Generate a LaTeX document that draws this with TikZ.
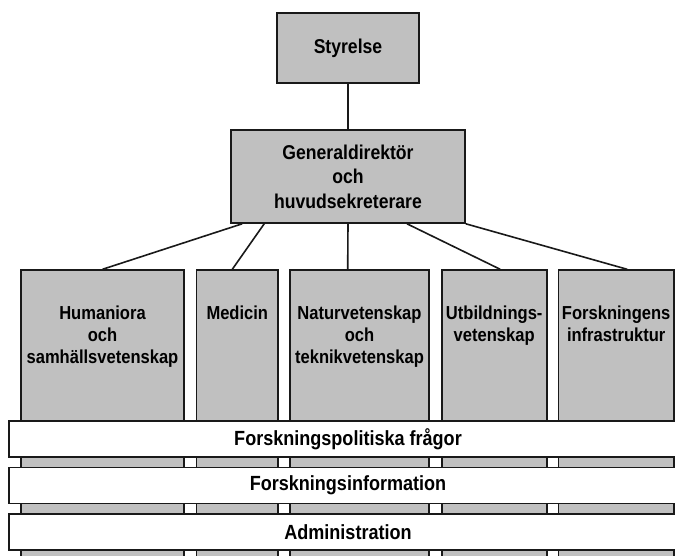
\documentclass[tikz,border=0pt]{standalone}
\usepackage{fontspec}
\setmainfont{Liberation Sans}[FakeStretch=0.88]
\usepackage{tikz}
\definecolor{boxgray}{RGB}{192,192,192}
\definecolor{edge}{RGB}{25,25,25}

\begin{document}
\begin{tikzpicture}[x=1pt,y=-1pt,
  unit/.style={draw=edge,fill=boxgray,line width=1.6pt,inner sep=0pt,align=center,
    font=\fontsize{20}{24.5}\selectfont\bfseries},
  dept/.style={draw=edge,fill=boxgray,line width=1.6pt,anchor=north,inner sep=0pt,
    minimum height=320pt},
  depttext/.style={anchor=north,inner sep=0pt,align=center,
    font=\fontsize{18.8}{22}\selectfont\bfseries},
  band/.style={draw=edge,fill=white,line width=1.6pt,inner sep=0pt,
    minimum width=678pt,minimum height=36pt,font=\fontsize{20.5}{22}\selectfont\bfseries},
  link/.style={draw=edge,line width=1.6pt}]
  \useasboundingbox (0,0) rectangle (675,556);
  \clip (0,0) rectangle (675,556);
  \node[unit,minimum width=142pt,minimum height=70pt] (sty) at (348,48) {Styrelse};
  \node[unit,minimum width=234pt,minimum height=93pt] (gd) at (348,176.5)
    {Generaldirektör\\och\\huvudsekreterare};
  \draw[link] (sty.south) -- (gd.north);

  \node[dept,minimum width=163pt]   (hum) at (102.5,269.3) {};
  \node[dept,minimum width=81.3pt]  (med) at (237.3,269.3) {};
  \node[dept,minimum width=139pt]   (nat) at (359.5,269.3) {};
  \node[dept,minimum width=105pt]   (utb) at (494.2,269.3) {};
  \node[dept,minimum width=115.7pt] (inf) at (616.2,269.3) {};
  \node[depttext] (humtxt) at ([yshift=-36.4pt]hum.north) {Humaniora\\och\\samhällsvetenskap};
  \node[depttext] (medtxt) at ([yshift=-36.4pt]med.north) {Medicin};
  \node[depttext] (nattxt) at ([yshift=-36.4pt]nat.north) {Naturvetenskap\\och\\teknikvetenskap};
  \node[depttext] (utbtxt) at ([yshift=-36.4pt]utb.north) {Utbildnings-\\vetenskap};
  \node[depttext] (inftxt) at ([yshift=-36.4pt]inf.north) {Forskningens\\infrastruktur};

  \draw[link] ([xshift=12pt]gd.south west) -- (hum.north);
  \draw[link] ([xshift=34pt]gd.south west) -- ([xshift=-5pt]med.north);
  \draw[link] (gd.south) -- ([xshift=-11.8pt]nat.north);
  \draw[link] ([xshift=59pt]gd.south) -- ([xshift=6pt]utb.north);
  \draw[link] (gd.south east) -- ([xshift=11pt]inf.north);

  \node[band] (pol) at (348,439) {Forskningspolitiska frågor};
  \node[band] (info) at (348,485.5) {Forskningsinformation};
  \node[band] (adm) at (348,532) {Administration};
\end{tikzpicture}
\end{document}
